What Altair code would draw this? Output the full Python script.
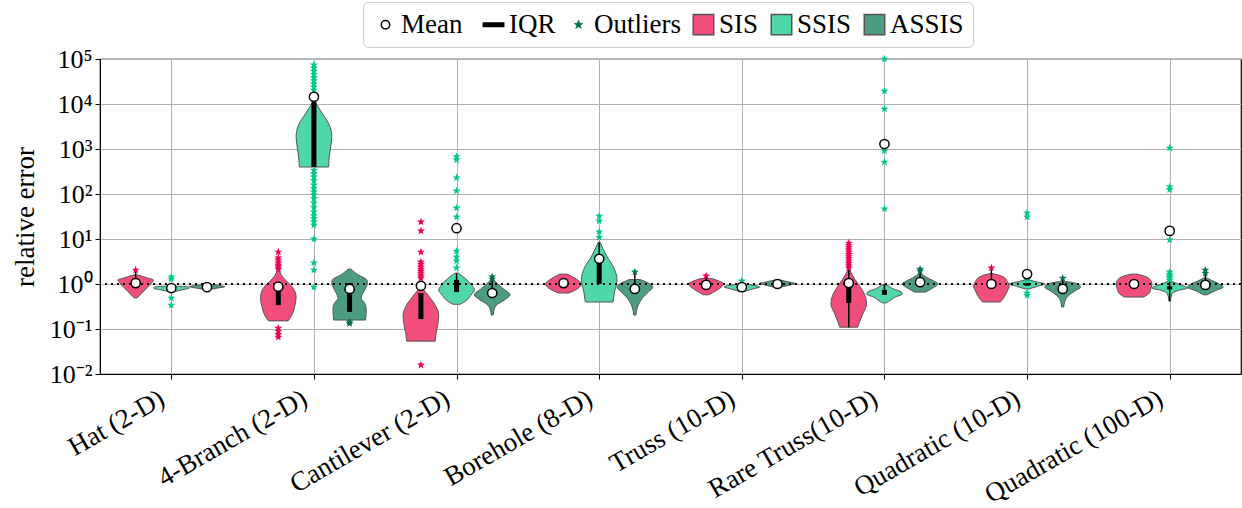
import json
import math
import altair as alt
import pandas as pd

FONT = "Liberation Serif"

categories = ["Hat (2-D)", "4-Branch (2-D)", "Cantilever (2-D)", "Borehole (8-D)",
              "Truss (10-D)", "Rare Truss(10-D)", "Quadratic (10-D)", "Quadratic (100-D)"]
methods = ["SIS", "SSIS", "ASSIS"]
method_offset = [-0.25, 0.0, 0.25]
half_width = 0.125

violin_colors = ["#f14e7b", "#50d7a7", "#4b9c80"]
outlier_colors = ["#f00050", "#00c986", "#006f4a"]

# violin outlines: (log10 relative error, relative half-width), bottom -> top
sis_violins = [
    [(-0.31, 0.08), (-0.2, 0.35), (-0.08, 0.65), (0.03, 0.9), (0.09, 1.0), (0.14, 0.6), (0.2, 0.15)],
    [(-0.82, 0.55), (-0.7, 0.75), (-0.5, 0.92), (-0.3, 1.0), (-0.1, 0.85), (0.05, 0.5), (0.18, 0.2), (0.31, 0.05)],
    [(-1.27, 0.8), (-1.1, 0.85), (-0.9, 0.95), (-0.7, 1.0), (-0.5, 0.85), (-0.3, 0.5), (-0.15, 0.2), (-0.08, 0.05)],
    [(-0.2, 0.3), (-0.1, 0.8), (0.0, 1.0), (0.1, 0.75), (0.22, 0.2)],
    [(-0.24, 0.15), (-0.15, 0.55), (-0.05, 0.9), (0.0, 1.0), (0.06, 0.75), (0.12, 0.3)],
    [(-0.96, 0.5), (-0.85, 0.6), (-0.65, 0.8), (-0.45, 1.0), (-0.3, 0.95), (-0.1, 0.7), (0.1, 0.35), (0.31, 0.05)],
    [(-0.4, 0.5), (-0.3, 0.7), (-0.15, 0.9), (-0.05, 1.0), (0.05, 0.9), (0.15, 0.7), (0.2, 0.4), (0.23, 0.1)],
    [(-0.29, 0.55), (-0.2, 0.85), (-0.1, 0.95), (0.0, 1.0), (0.1, 0.9), (0.18, 0.55), (0.22, 0.15)],
]
ssis_violins = [
    [(-0.17, 0.15), (-0.13, 0.6), (-0.09, 1.0), (-0.06, 0.9), (-0.05, 0.3)],
    [(2.6, 0.82), (2.8, 0.85), (3.0, 0.92), (3.27, 1.0), (3.5, 0.9), (3.8, 0.45), (4.05, 0.05)],
    [(-0.45, 0.2), (-0.38, 0.5), (-0.25, 0.8), (-0.13, 1.0), (-0.05, 0.9), (0.1, 0.55), (0.24, 0.1)],
    [(-0.4, 0.78), (-0.2, 0.85), (0.09, 1.0), (0.38, 0.8), (0.6, 0.45), (0.93, 0.05)],
    [(-0.16, 0.2), (-0.1, 0.7), (-0.07, 1.0), (-0.03, 0.7), (0.0, 0.15)],
    [(-0.42, 0.1), (-0.36, 0.35), (-0.3, 0.55), (-0.22, 1.0), (-0.18, 0.95), (-0.1, 0.45), (-0.02, 0.15)],
    [(-0.11, 0.1), (-0.05, 0.6), (0.0, 1.0), (0.05, 0.5), (0.09, 0.1)],
    [(-0.38, 0.04), (-0.22, 0.12), (-0.14, 0.5), (-0.09, 1.0), (-0.02, 0.6), (0.05, 0.15)],
]
assis_violins = [
    [(-0.12, 0.15), (-0.09, 0.6), (-0.06, 1.0), (-0.03, 0.6), (-0.01, 0.15)],
    [(-0.8, 0.9), (-0.6, 0.93), (-0.5, 0.92), (-0.4, 0.8), (-0.32, 0.65), (-0.2, 0.75), (-0.05, 0.95),
     (0.05, 1.0), (0.1, 0.95), (0.2, 0.5), (0.33, 0.08)],
    [(-0.69, 0.05), (-0.55, 0.12), (-0.45, 0.3), (-0.35, 0.7), (-0.24, 1.0), (-0.1, 0.6), (0.08, 0.1)],
    [(-0.69, 0.06), (-0.55, 0.12), (-0.42, 0.25), (-0.3, 0.45), (-0.18, 0.75), (-0.07, 1.0), (0.0, 0.85), (0.1, 0.3)],
    [(-0.07, 0.2), (-0.02, 0.7), (0.01, 1.0), (0.05, 0.6), (0.09, 0.15)],
    [(-0.18, 0.3), (-0.08, 0.75), (0.0, 1.0), (0.08, 0.7), (0.15, 0.35), (0.22, 0.1)],
    [(-0.51, 0.06), (-0.35, 0.15), (-0.25, 0.35), (-0.15, 0.7), (-0.07, 1.0), (0.0, 0.85), (0.05, 0.3)],
    [(-0.24, 0.1), (-0.15, 0.55), (-0.07, 1.0), (0.0, 0.8), (0.07, 0.4), (0.13, 0.1)],
]

# means (log10)
sis_means = [0.02, -0.06, -0.04, 0.02, -0.02, 0.02, 0.0, 0.0]
ssis_means = [-0.09, 4.16, 1.24, 0.56, -0.07, 3.11, 0.22, 1.18]
assis_means = [-0.07, -0.11, -0.2, -0.11, 0.0, 0.04, -0.11, -0.02]

# inter-quartile ranges (log10)
sis_iqr = [None, (-0.47, -0.05), (-0.78, -0.2), None, None, (-0.42, -0.09), (-0.1, -0.02), None]
ssis_iqr = [None, (2.6, 4.05), (-0.18, 0.09), (0.0, 0.53), None, (-0.24, -0.13), (-0.04, 0.02), (-0.12, -0.05)]
assis_iqr = [None, (-0.62, 0.02), None, None, None, None, None, None]

# whiskers (log10)
sis_whisk = [(0.02, 0.27), None, None, None, (-0.02, 0.15), (-0.96, 0.31), (0.0, 0.33), None]
ssis_whisk = [None, None, (0.09, 0.24), (0.53, 0.93), None, (-0.13, 0.0), None, (-0.38, 0.1)]
assis_whisk = [None, None, (-0.2, 0.12), (-0.11, 0.24), None, (0.04, 0.29), (-0.11, 0.1), (-0.02, 0.27)]

# outliers (log10)
sis_out = [
    [0.31],
    [0.71, 0.58, 0.53, 0.47, 0.42, 0.38, 0.33, -0.98, -1.05, -1.12, -1.18],
    [1.38, 1.18, 0.71, 0.49, 0.44, 0.38, 0.33, 0.28, 0.23, 0.18, 0.13, -1.8],
    [],
    [0.18],
    [0.91, 0.86, 0.81, 0.76, 0.71, 0.66, 0.61, 0.56, 0.51, 0.46, 0.41, 0.36],
    [0.36],
    [],
]
ssis_out = [
    [0.16, 0.11, -0.31, -0.47],
    [4.87, 4.8, 4.73, 4.66, 4.59, 4.52, 4.45, 4.38, 4.31,
     2.53, 2.45, 2.38, 2.3, 2.2, 2.12, 2.05, 1.98, 1.9, 1.8, 1.7, 1.6, 1.52, 1.45, 1.38, 1.31,
     1.0, 0.47, 0.31, -0.07],
    [2.83, 2.76, 2.36, 2.07, 1.69, 1.49, 0.73, 0.6, 0.51, 0.36],
    [1.51, 1.4, 1.16, 1.04],
    [0.07],
    [5.0, 4.29, 3.89, 2.96, 2.71, 1.67],
    [1.58, 1.49, 0.09, -0.2, -0.25],
    [3.02, 2.16, 2.1, 0.98, 0.27, 0.22, 0.18, 0.14, 0.09],
]
assis_out = [
    [],
    [-0.84, -0.88],
    [0.16, 0.11],
    [0.27],
    [],
    [0.33, 0.29],
    [0.13],
    [0.31, 0.24],
]

# five-pointed star glyph (marker shape, unit coordinates)
STAR = "M" + " L".join(
    f"{(1.0 if k % 2 == 0 else 0.42) * math.cos(math.radians(-90 + 36 * k)):.3f},"
    f"{(1.0 if k % 2 == 0 else 0.42) * math.sin(math.radians(-90 + 36 * k)):.3f}"
    for k in range(10)) + " Z"

legend_entries = ["Mean", "IQR", "Outliers", "SIS", "SSIS", "ASSIS"]
legend_fills = ["white", "black", outlier_colors[2]] + violin_colors
legend_strokes = ["black", "black", outlier_colors[2], "#555555", "#555555", "#555555"]
legend_shapes = ["circle", "stroke", STAR, "square", "square", "square"]
legend_sizes = [70, 480, 90, 420, 420, 420]
legend_widths = [1.5, 5, 0.5, 1.5, 1.5, 1.5]

# ---------------- tables ----------------
all_violins = [sis_violins, ssis_violins, assis_violins]
all_means = [sis_means, ssis_means, assis_means]
all_iqr = [sis_iqr, ssis_iqr, assis_iqr]
all_whisk = [sis_whisk, ssis_whisk, assis_whisk]
all_out = [sis_out, ssis_out, assis_out]

v_rows, m_rows, i_rows, w_rows, o_rows = [], [], [], [], []
for mi, m in enumerate(methods):
    for ci in range(len(categories)):
        cx = ci + method_offset[mi]
        for ly, w in all_violins[mi][ci]:
            v_rows.append({"entry": m, "vid": f"{m}-{ci}", "y": 10 ** ly,
                           "x": cx - w * half_width, "x2": cx + w * half_width})
        m_rows.append({"x": cx, "y": 10 ** all_means[mi][ci]})
        if all_iqr[mi][ci] is not None:
            lo, hi = all_iqr[mi][ci]
            i_rows.append({"x": cx, "y": 10 ** lo, "y2": 10 ** hi})
        if all_whisk[mi][ci] is not None:
            lo, hi = all_whisk[mi][ci]
            w_rows.append({"x": cx, "y": 10 ** lo, "y2": 10 ** hi})
        for ly in all_out[mi][ci]:
            o_rows.append({"entry": m, "x": cx, "y": 10 ** ly})

vdf = pd.DataFrame(v_rows)
mdf = pd.DataFrame(m_rows)
idf = pd.DataFrame(i_rows)
wdf = pd.DataFrame(w_rows)
odf = pd.DataFrame(o_rows)
legdf = pd.DataFrame({"entry": legend_entries, "x": [0.0] * 6, "y": [1e-6] * 6})
onedf = pd.DataFrame({"y": [1.0]})

# ---------------- encodings ----------------
xscale = alt.Scale(domain=[-0.5, len(categories) - 0.5], nice=False, zero=False)
yscale = alt.Scale(type="log", domain=[1e-2, 1e5], nice=False)

xaxis = alt.Axis(values=list(range(len(categories))),
                 labelExpr=json.dumps(categories) + "[datum.value]",
                 labelAngle=-30, labelAlign="right", labelBaseline="top",
                 labelFont=FONT, labelFontSize=27, labelColor="black", labelPadding=6,
                 labelOffset=-16, labelOverlap=False, labelBound=False, labelLimit=500,
                 grid=True, gridColor="#b0b0b0", gridWidth=1,
                 tickColor="black", tickSize=5, domainColor="black", title=None)
yaxis = alt.Axis(values=[1e-2, 1e-1, 1, 10, 100, 1e3, 1e4, 1e5],
                 labelExpr="'10' + ['⁻²','⁻¹','⁰','¹','²','³','⁴','⁵'][round(log(datum.value)/LN10)+2]",
                 labelFont=FONT, labelFontSize=26, labelColor="black", labelPadding=3,
                 labelOverlap=False, labelBound=False,
                 grid=True, gridColor="#b0b0b0", gridWidth=1,
                 tickColor="black", tickSize=5, domainColor="black",
                 title="relative error", titleFont=FONT, titleFontSize=27,
                 titleFontWeight="normal", titleColor="black", titlePadding=10)


def X():
    return alt.X("x:Q", scale=xscale, axis=xaxis)


def Y():
    return alt.Y("y:Q", scale=yscale, axis=yaxis)


leg = alt.Legend(title=None, orient="none", legendX=263, legendY=-57, direction="horizontal",
                 columns=6, labelFont=FONT, labelFontSize=27, labelColor="black",
                 fillColor="white", strokeColor="#cccccc", cornerRadius=5, padding=9,
                 columnPadding=9, labelOffset=2)

fill_scale = alt.Scale(domain=legend_entries, range=legend_fills)

violin_layer = alt.Chart(vdf).mark_area(
    orient="horizontal", interpolate="monotone", stroke="#555555", strokeWidth=1, opacity=1
).encode(
    x=X(), x2="x2:Q", y=Y(), detail="vid:N",
    fill=alt.Fill("entry:N", scale=fill_scale, legend=leg),
)

dotted = alt.Chart(onedf).mark_rule(color="black", strokeDash=[2, 4], strokeWidth=2).encode(y=Y())
whisk_layer = alt.Chart(wdf).mark_rule(color="black", strokeWidth=1.5).encode(x=X(), y=Y(), y2="y2:Q")
iqr_layer = alt.Chart(idf).mark_rule(color="black", strokeWidth=5).encode(x=X(), y=Y(), y2="y2:Q")

out_layer = alt.Chart(odf).mark_point(shape=STAR, filled=True, size=70, opacity=1).encode(
    x=X(), y=Y(),
    color=alt.Color("entry:N", scale=alt.Scale(domain=methods, range=outlier_colors), legend=None),
)

mean_layer = alt.Chart(mdf).mark_point(shape="circle", filled=True, fill="white", stroke="black",
                                       strokeWidth=1.5, size=85, opacity=1).encode(x=X(), y=Y())

legend_layer = alt.Chart(legdf).mark_point(filled=True, clip=True, opacity=1).encode(
    x=X(), y=Y(),
    fill=alt.Fill("entry:N", scale=fill_scale, legend=leg),
    stroke=alt.Stroke("entry:N", scale=alt.Scale(domain=legend_entries, range=legend_strokes), legend=leg),
    shape=alt.Shape("entry:N", scale=alt.Scale(domain=legend_entries, range=legend_shapes), legend=leg),
    size=alt.Size("entry:N", scale=alt.Scale(type="ordinal", domain=legend_entries, range=legend_sizes), legend=leg),
    strokeWidth=alt.StrokeWidth("entry:N", scale=alt.Scale(type="ordinal", domain=legend_entries, range=legend_widths), legend=leg),
)

chart = alt.layer(
    violin_layer, dotted, whisk_layer, iqr_layer, out_layer, mean_layer, legend_layer
).properties(
    width=1141, height=315,
    padding={"left": 100, "top": 59, "right": 1, "bottom": 134},
    autosize=alt.AutoSizeParams(type="none"),
).configure_view(
    stroke="black", strokeWidth=1.2
)

chart.save("out.html", embed_options={"renderer": "svg", "actions": False})
